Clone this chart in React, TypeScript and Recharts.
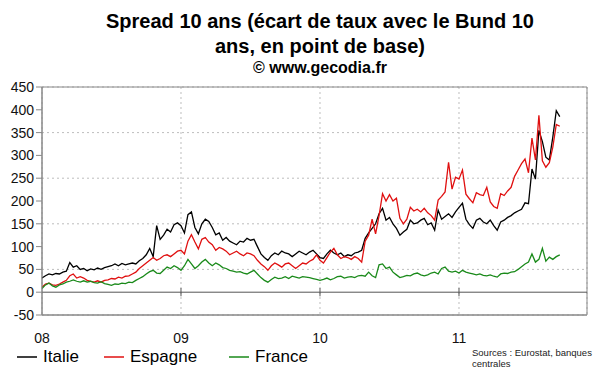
import { LineChart, Line, XAxis, YAxis, CartesianGrid, Legend, ReferenceLine, ReferenceArea } from "recharts";

// x axis: one point every 1/40 of a year from January 2008
const startYear = 2008;
const pointsPerYear = 40;
const endYear = 2011.921;

const yearTicks = [2008, 2009, 2010, 2011];
const yearLabels = ["08", "09", "10", "11"];
const yTicks = [-50, 0, 50, 100, 150, 200, 250, 300, 350, 400, 450];

const italie = [
  31, 36, 40, 38, 41, 40, 44, 46, 65, 55, 58, 50, 52, 47, 51, 49, 53, 50, 54, 56,
  58, 62, 58, 63, 60, 62, 64, 62, 69, 74, 82, 96, 78, 146, 116, 125, 138, 132, 148, 152,
  146, 130, 170, 176, 142, 128, 150, 160, 155, 142, 126, 130, 114, 120, 112, 108, 104, 112, 110, 118,
  114, 116, 100, 84, 76, 70, 80, 86, 82, 90, 86, 84, 78, 84, 90, 86, 82, 88, 92, 84,
  76, 74, 84, 92, 86, 82, 86, 78, 82, 80, 86, 88, 92, 118, 130, 140, 150, 172, 184, 158,
  164, 150, 140, 125, 132, 138, 158, 150, 152, 158, 162, 148, 152, 136, 180, 160, 166, 172, 164, 176,
  186, 195, 160, 148, 140, 158, 162, 154, 150, 158, 146, 136, 154, 158, 164, 168, 174, 178, 182, 196,
  194, 270, 248, 355, 330, 296, 290, 340, 398, 385,
];

const espagne = [
  11, 18, 20, 16, 15, 18, 22, 26, 36, 40, 31, 34, 31, 26, 24, 22, 25, 22, 26, 27,
  30, 29, 33, 31, 35, 36, 40, 44, 52, 58, 64, 70, 76, 70, 74, 80, 82, 78, 84, 90,
  92, 84, 112, 126, 110, 95, 116, 120, 110, 104, 92, 98, 95, 90, 82, 86, 90, 84, 80, 86,
  84, 80, 70, 62, 56, 48, 58, 64, 60, 55, 62, 64, 58, 52, 58, 64, 62, 68, 72, 82,
  70, 64, 76, 88, 96, 82, 74, 78, 76, 72, 78, 74, 66, 112, 125, 160, 128, 168, 216, 200,
  214, 200, 206, 162, 150, 160, 186, 178, 182, 176, 184, 174, 168, 158, 202, 210, 220, 285, 226, 252,
  248, 268, 215, 205, 196, 218, 214, 212, 230, 198, 188, 184, 216, 212, 222, 230, 254, 268, 282, 292,
  262, 338, 290, 388, 288, 274, 284, 318, 368, 364,
];

const france = [
  8, 16, 20, 14, 11, 16, 18, 22, 24, 27, 24, 22, 25, 22, 24, 21, 20, 23, 19, 17,
  15, 18, 17, 20, 19, 22, 21, 26, 30, 34, 40, 45, 48, 42, 41, 48, 55, 52, 58, 54,
  48, 58, 72, 62, 52, 58, 66, 72, 64, 58, 64, 60, 54, 52, 48, 46, 44, 45, 42, 40,
  44, 48, 40, 32, 26, 22, 28, 33, 30, 31, 34, 30, 35, 33, 31, 34, 33, 32, 30, 28,
  26, 28, 31, 27, 30, 34, 35, 31, 33, 34, 32, 36, 37, 35, 44, 36, 32, 60, 62, 52,
  55, 44, 38, 32, 34, 37, 36, 40, 42, 38, 36, 38, 42, 44, 40, 52, 55, 46, 44, 46,
  42, 48, 44, 42, 40, 38, 40, 37, 36, 38, 35, 33, 40, 42, 41, 44, 45, 50, 56, 62,
  66, 84, 66, 72, 96, 68, 77, 72, 78, 82,
];

const series = [
  { key: "italie", name: "Italie", color: "#000000" },
  { key: "espagne", name: "Espagne", color: "#e01010" },
  { key: "france", name: "France", color: "#1a8a1a" },
];

const data = italie.map((v, i) => ({
  t: startYear + i / pointsPerYear,
  italie: v,
  espagne: espagne[i],
  france: france[i],
}));

const font = '"Liberation Sans", Arial, sans-serif';
const legendWidths = [87, 125, 90];

function LegendContent() {
  return (
    <div style={{ display: "flex", fontFamily: font, fontSize: 17, color: "#000", lineHeight: "20px" }}>
      {series.map((s, i) => (
        <div key={s.key} style={{ display: "flex", alignItems: "center", width: legendWidths[i] }}>
          <svg width={20} height={4} style={{ marginRight: 6 }}>
            <line x1={0} y1={2} x2={20} y2={2} stroke={s.color} strokeWidth={1.5} />
          </svg>
          {s.name}
        </div>
      ))}
    </div>
  );
}

export default function App() {
  return (
    <div style={{ position: "absolute", left: 0, top: 0, width: 600, height: 372, background: "#fff", fontFamily: font }}>
      <div style={{ position: "absolute", left: 20, top: 9, width: 600, textAlign: "center", fontWeight: "bold", fontSize: 20, lineHeight: "25px" }}>
        Spread 10 ans (écart de taux avec le Bund 10
        <br />
        ans, en point de base)
      </div>
      <div style={{ position: "absolute", left: 20, top: 58, width: 600, textAlign: "center", fontWeight: "bold", fontSize: 16, lineHeight: "20px" }}>
        © www.gecodia.fr
      </div>
      <LineChart width={600} height={372} data={data} margin={{ top: 87, right: 13, left: 0, bottom: 27 }}>
        <CartesianGrid stroke="#bdbdbd" strokeDasharray="2 3" />
        <XAxis
          dataKey="t"
          type="number"
          domain={[startYear, endYear]}
          ticks={yearTicks}
          allowDataOverflow
          axisLine={{ stroke: "#888" }}
          tickLine={false}
          tickMargin={12}
          tick={{ fill: "#111", fontSize: 14, fontFamily: font }}
          tickFormatter={(v) => yearLabels[yearTicks.indexOf(v)] ?? ""}
        />
        <YAxis
          type="number"
          domain={[-50, 450]}
          ticks={yTicks}
          width={42}
          axisLine={{ stroke: "#888" }}
          tickLine={{ stroke: "#888" }}
          tickSize={6}
          tickMargin={2}
          tick={{ fill: "#111", fontSize: 14, fontFamily: font }}
        />
        <ReferenceArea x1={startYear} x2={endYear} y1={-50} y2={450} fill="none" stroke="#888" />
        <ReferenceLine y={0} stroke="#555" />
        {yearTicks.slice(1).map((yr) => (
          <ReferenceLine key={yr} segment={[{ x: yr, y: -9 }, { x: yr, y: 9 }]} stroke="#555" />
        ))}
        {series.map((s) => (
          <Line
            key={s.key}
            dataKey={s.key}
            name={s.name}
            stroke={s.color}
            strokeWidth={1.3}
            dot={false}
            activeDot={false}
            isAnimationActive={false}
          />
        ))}
        <Legend
          layout="horizontal"
          verticalAlign="middle"
          align="center"
          content={<LegendContent />}
          wrapperStyle={{ left: 17, top: 347, width: 320 }}
        />
      </LineChart>
      <div style={{ position: "absolute", left: 472, top: 347, fontFamily: '"Liberation Sans Narrow", "Liberation Sans", Arial, sans-serif', fontSize: 9.5, lineHeight: "11px", color: "#222" }}>
        Sources : Eurostat, banques
        <br />
        centrales
      </div>
    </div>
  );
}
